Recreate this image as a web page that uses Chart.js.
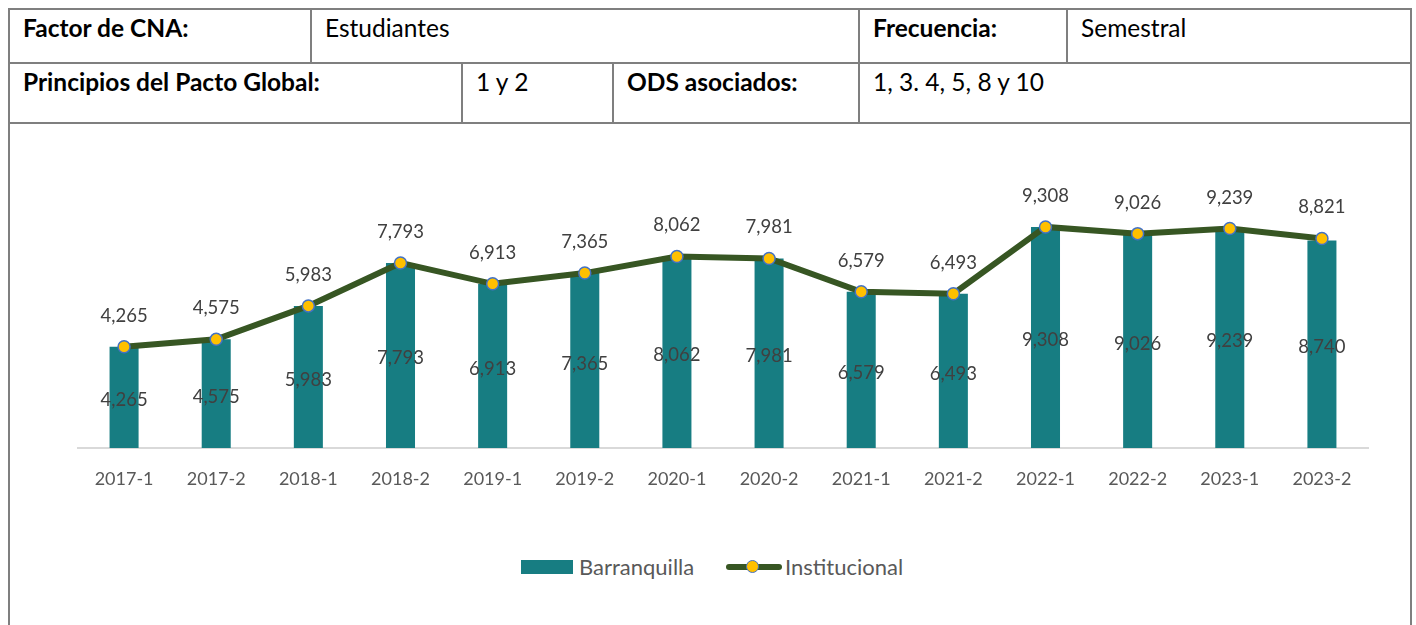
<!DOCTYPE html>
<html>
<head>
<meta charset="utf-8">
<script src="https://cdn.jsdelivr.net/npm/chart.js@4.4.0/dist/chart.umd.min.js"></script>
<style>
  body { margin: 0; background: #fff; width: 1416px; height: 625px; overflow: hidden; position: relative; font-family: Lato, "Open Sans", sans-serif; color: #000; }
  table.ficha { position: absolute; left: 8px; top: 8px; width: 1402px; border-collapse: collapse; table-layout: fixed; }
  table.ficha td { border: 2px solid #7f7f7f; padding: 4px 13px 0 13px; vertical-align: top; font-size: 24.5px; line-height: 28px; }
  table.ficha td.b { font-weight: bold; }
  tr.r1 td { height: 48px; }
  tr.r2 td { height: 54px; }
  tr.r3 td { height: 520px; padding: 0; }
  #chartBox { position: absolute; left: 10px; top: 124px; width: 1398px; height: 384px; }
  .legend { position: absolute; top: 554px; height: 26px; font-size: 22px; line-height: 26px; color: #595959; }
  .swatch-bar { position: absolute; left: 521px; top: 560px; width: 52px; height: 14px; background: #177d82; }
  .swatch-line { position: absolute; left: 726px; top: 564px; width: 56px; height: 6px; border-radius: 3px; background: #375623; }
  .swatch-dot { position: absolute; left: 746px; top: 560px; width: 11px; height: 11px; border-radius: 50%; background: #ffc000; border: 1.5px solid #4472c4; }
</style>
</head>
<body>
<table class="ficha">
  <colgroup>
    <col style="width:302px"><col style="width:151px"><col style="width:151px">
    <col style="width:246px"><col style="width:208px"><col style="width:344px">
  </colgroup>
  <tr class="r1">
    <td class="b">Factor de CNA:</td>
    <td colspan="3">Estudiantes</td>
    <td class="b">Frecuencia:</td>
    <td>Semestral</td>
  </tr>
  <tr class="r2">
    <td class="b" colspan="2">Principios del Pacto Global:</td>
    <td>1 y 2</td>
    <td class="b">ODS asociados:</td>
    <td colspan="2">1, 3. 4, 5, 8 y 10</td>
  </tr>
  <tr class="r3"><td colspan="6"></td></tr>
</table>

<div id="chartBox"><canvas id="grafico"></canvas></div>

<div class="swatch-bar"></div>
<div class="legend" style="left:579px">Barranquilla</div>
<div class="swatch-line"></div>
<div class="swatch-dot"></div>
<div class="legend" style="left:785px">Institucional</div>

<script>
// --- DATOS ---
const periodos = ['2017-1', '2017-2', '2018-1', '2018-2', '2019-1', '2019-2', '2020-1',
                  '2020-2', '2021-1', '2021-2', '2022-1', '2022-2', '2023-1', '2023-2'];
const barranquilla = [4265, 4575, 5983, 7793, 6913, 7365, 8062, 7981, 6579, 6493, 9308, 9026, 9239, 8740];
const institucional = [4265, 4575, 5983, 7793, 6913, 7365, 8062, 7981, 6579, 6493, 9308, 9026, 9239, 8821];

// --- COLORES ---
const COLOR_BARRA = '#177d82';
const COLOR_LINEA = '#375623';
const COLOR_TEXTO = '#404040';

const fmt = (v) => v.toLocaleString('en-US');

// etiquetas de valor (no hay plugin datalabels disponible)
const etiquetasPlugin = {
  id: 'etiquetas',
  afterDatasetsDraw(chart) {
    const ctx = chart.ctx;
    ctx.save();
    ctx.font = '18.5px Lato, "Open Sans", sans-serif';
    ctx.fillStyle = COLOR_TEXTO;
    ctx.textAlign = 'center';
    ctx.textBaseline = 'middle';
    chart.getDatasetMeta(0).data.forEach((el, i) => {
      ctx.fillText(fmt(barranquilla[i]), el.x, (el.y + el.base) / 2 + 3);
    });
    chart.getDatasetMeta(1).data.forEach((el, i) => {
      ctx.fillText(fmt(institucional[i]), el.x, el.y - 31);
    });
    ctx.restore();
  }
};

new Chart(document.getElementById('grafico'), {
  data: {
    labels: periodos,
    datasets: [
      {
        type: 'bar',
        label: 'Barranquilla',
        data: barranquilla,
        backgroundColor: COLOR_BARRA,
        barPercentage: 0.315,
        categoryPercentage: 1,
        order: 1
      },
      {
        type: 'line',
        label: 'Institucional',
        data: institucional,
        borderColor: COLOR_LINEA,
        borderWidth: 6,
        tension: 0,
        pointRadius: 6,
        pointBackgroundColor: '#ffc000',
        pointBorderColor: '#4472c4',
        pointBorderWidth: 1.5,
        order: 0
      }
    ]
  },
  options: {
    responsive: true,
    maintainAspectRatio: false,
    animation: false,
    layout: { padding: { left: 68, right: 40, top: 39, bottom: 0 } },
    plugins: { legend: { display: false }, tooltip: { enabled: false } },
    scales: {
      y: { display: false, min: 0, max: 12000 },
      x: {
        grid: { display: false, drawTicks: false },
        border: { display: true, color: '#d9d9d9', width: 2 },
        ticks: { color: '#595959', font: { family: 'Lato', size: 18 }, padding: 20 },
        afterFit: (s) => { s.height = 60; }
      }
    }
  },
  plugins: [etiquetasPlugin]
});
</script>
</body>
</html>
